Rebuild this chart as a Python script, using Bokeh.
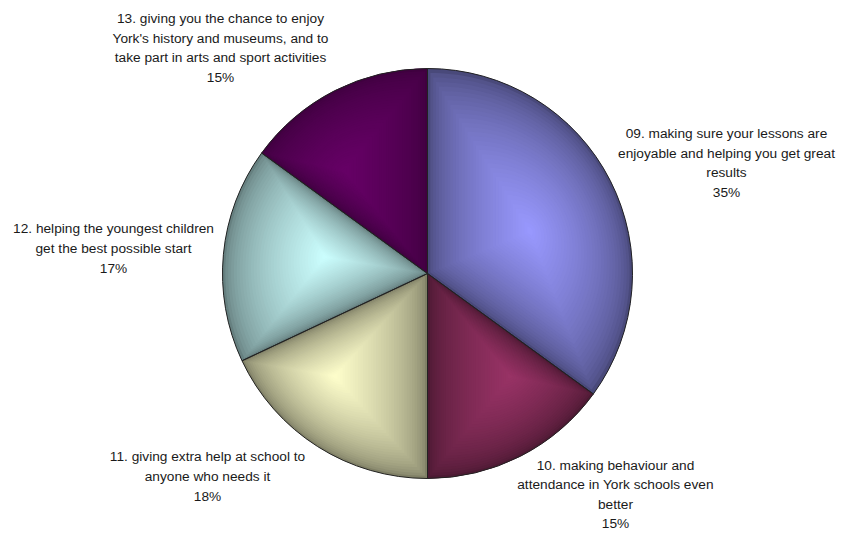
import numpy as np
from bokeh.plotting import figure
from bokeh.models import ColumnDataSource, Range1d
from bokeh.core.properties import value
from bokeh.embed import file_html
from bokeh.resources import INLINE

# ---- data ----
categories = [
    "09. making sure your lessons are\nenjoyable and helping you get great\nresults",
    "10. making behaviour and\nattendance in York schools even\nbetter",
    "11. giving extra help at school to\nanyone who needs it",
    "12. helping the youngest children\nget the best possible start",
    "13. giving you the chance to enjoy\nYork's history and museums, and to\ntake part in arts and sport activities",
]
percent = [35, 15, 18, 17, 15]
colors = ["#9999FF", "#993366", "#FFFFCC", "#CCFFFF", "#660066"]

# ---- layout ----
W, H = 841, 536
CX, CY, R = 427.0, 536 - 273.0, 205.0
label_x = [726, 615, 207, 113, 220]
label_y = [536 - 162.5, 536 - 494, 536 - 476, 536 - 248, 536 - 47.5]
edge_factor = [0.48, 0.5, 0.5, 0.5, 0.62]

vals = np.array(percent, dtype=float)
frac = vals / vals.sum()
cum_end = np.cumsum(frac)
cum_start = cum_end - frac
start_angle = np.pi / 2 - 2 * np.pi * cum_end
end_angle = np.pi / 2 - 2 * np.pi * cum_start

src = ColumnDataSource(dict(
    x=[CX] * len(vals), y=[CY] * len(vals),
    start=start_angle, end=end_angle, color=colors,
))

p = figure(width=W, height=H, x_range=Range1d(0, W), y_range=Range1d(0, H),
           output_backend="svg", toolbar_location=None,
           x_axis_type=None, y_axis_type=None, min_border=0,
           background_fill_color="white", border_fill_color="white")
p.outline_line_color = None
p.grid.visible = False

p.wedge(x="x", y="y", radius=R, start_angle="start", end_angle="end",
        fill_color="color", line_color=None, source=src)

# bevel-like shading: nested shrinking polygons toward each slice's bbox centre
def hex2rgb(h):
    h = h.lstrip("#")
    return np.array([int(h[i:i + 2], 16) for i in (0, 2, 4)], dtype=float)

xs_all, ys_all, cols_all = [], [], []
N = 36
for a0, a1, col, ef in zip(start_angle, end_angle, colors, edge_factor):
    n = max(10, int(np.degrees(a1 - a0) / 1.5))
    ang = np.linspace(a0, a1, n)
    px = np.concatenate([[CX], CX + R * np.cos(ang)])
    py = np.concatenate([[CY], CY + R * np.sin(ang)])
    cx = (px.min() + px.max()) / 2
    cy = (py.min() + py.max()) / 2
    base = hex2rgb(col)
    edge = base * ef
    for k in range(N):
        s = 1 - k / N
        t = (k / N) ** 0.6
        c = edge + (base - edge) * t
        xs_all.append(list(cx + s * (px - cx)))
        ys_all.append(list(cy + s * (py - cy)))
        cols_all.append("#%02x%02x%02x" % tuple(int(round(v)) for v in c))

p.patches(xs=xs_all, ys=ys_all, fill_color=cols_all, line_color=None)

p.wedge(x="x", y="y", radius=R, start_angle="start", end_angle="end",
        fill_color=None, line_color="#222222", line_width=1, source=src)

labels = [c + "\n%d%%" % v for c, v in zip(categories, percent)]
lsrc = ColumnDataSource(dict(x=label_x, y=label_y, text=labels))
p.text(x="x", y="y", text="text", source=lsrc,
       text_font=value("Liberation Sans"), text_font_size="13.7px",
       text_color="#1a1a1a", text_align="center", text_baseline="middle",
       text_line_height=1.31)

open("out.html", "w").write(file_html(p, INLINE))
